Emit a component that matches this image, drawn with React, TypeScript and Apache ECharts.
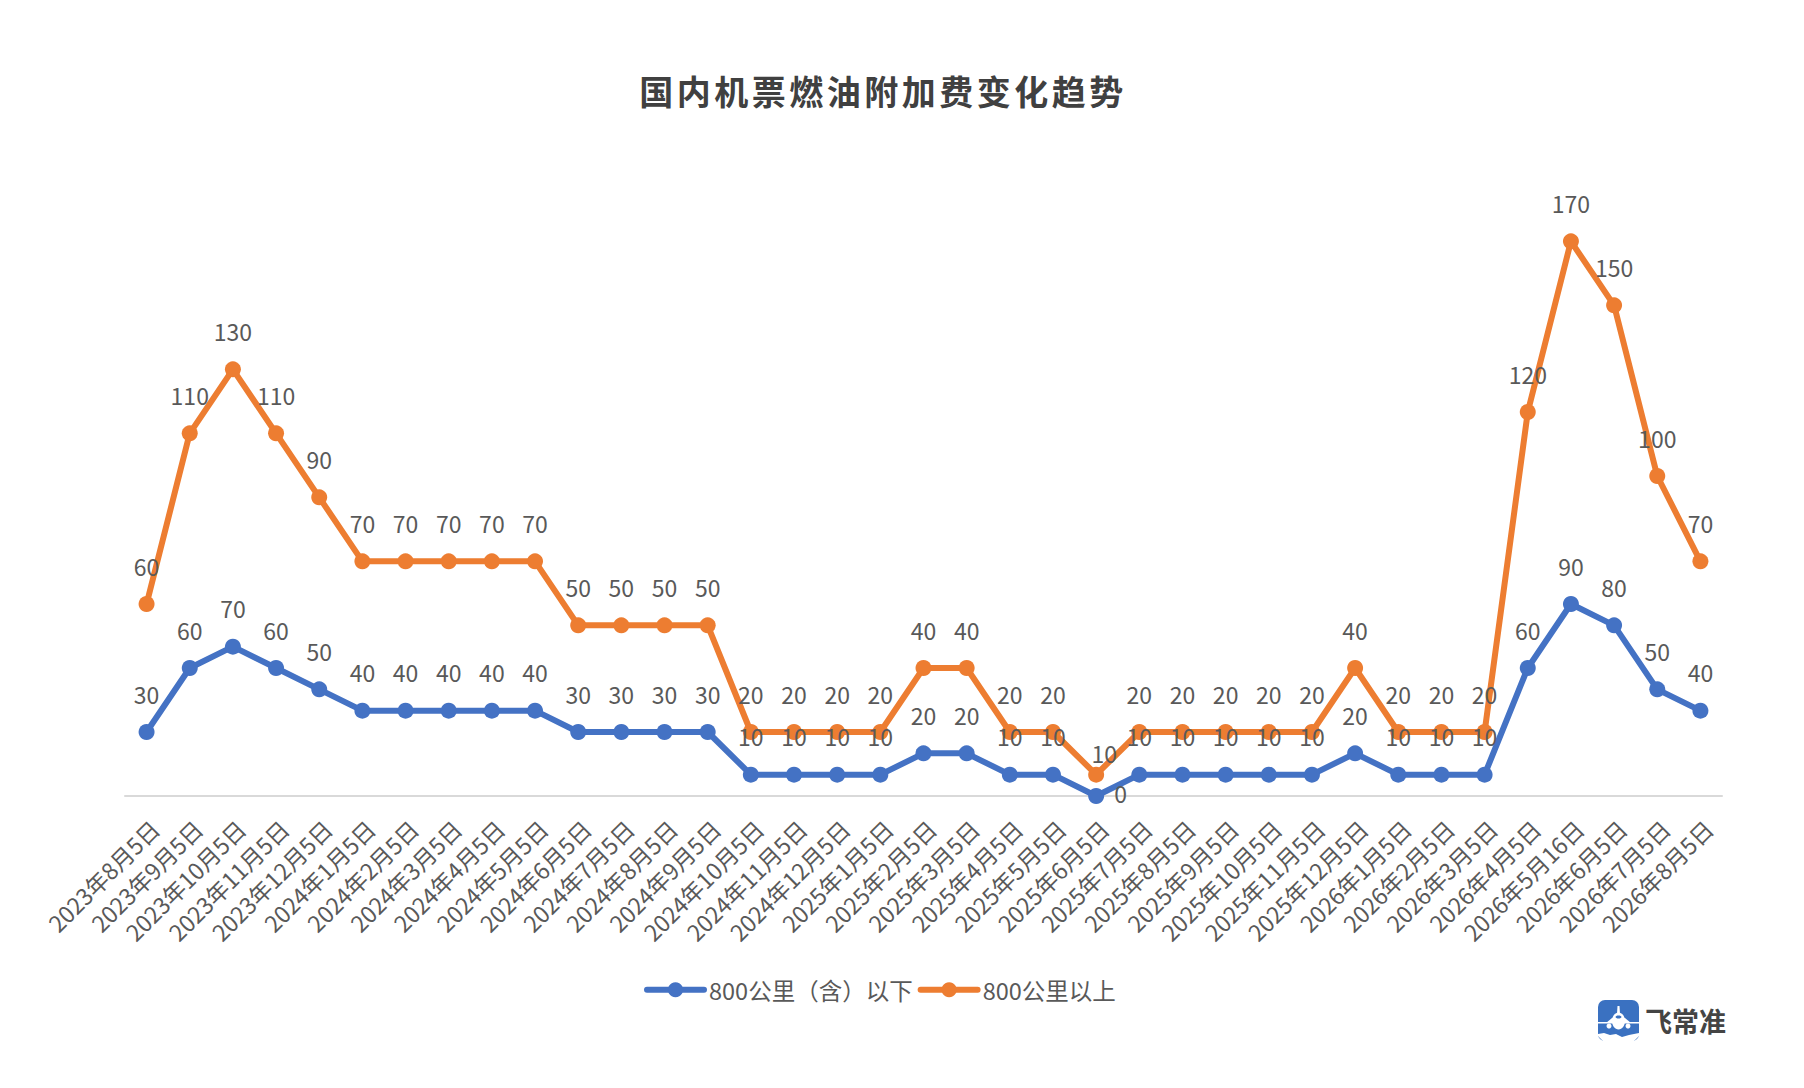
import React, { useEffect, useRef } from "react";
import * as echarts from "echarts";

const titleText = "国内机票燃油附加费变化趋势";
const categories = [
  "2023年8月5日","2023年9月5日","2023年10月5日","2023年11月5日","2023年12月5日",
  "2024年1月5日","2024年2月5日","2024年3月5日","2024年4月5日","2024年5月5日","2024年6月5日","2024年7月5日","2024年8月5日","2024年9月5日","2024年10月5日","2024年11月5日","2024年12月5日",
  "2025年1月5日","2025年2月5日","2025年3月5日","2025年4月5日","2025年5月5日","2025年6月5日","2025年7月5日","2025年8月5日","2025年9月5日","2025年10月5日","2025年11月5日","2025年12月5日",
  "2026年1月5日","2026年2月5日","2026年3月5日","2026年4月5日","2026年5月16日","2026年6月5日","2026年7月5日","2026年8月5日",
];
const shortHaul = [30,60,70,60,50,40,40,40,40,40,30,30,30,30,10,10,10,10,20,20,10,10,0,10,10,10,10,10,20,10,10,10,60,90,80,50,40];
const longHaul = [60,110,130,110,90,70,70,70,70,70,50,50,50,50,20,20,20,20,40,40,20,20,10,20,20,20,20,20,40,20,20,20,120,170,150,100,70];
const seriesNames = ["800公里（含）以下", "800公里以上"];
const logoText = "飞常准";

const FONT = '"Noto Sans CJK SC", "Noto Sans", sans-serif';
const TEXT = "#595959";
const BLUE = "#4472C4";
const ORANGE = "#ED7D31";
const DIP_INDEX = 22;

export default function App() {
  const ref = useRef<HTMLDivElement>(null);
  useEffect(() => {
    const chart = echarts.init(ref.current!, null, { renderer: "svg" });
    const labelBase = { show: true, position: "top", distance: 19, fontSize: 23, color: TEXT, fontFamily: FONT };
    const lineSeries = (name: string, values: number[], color: string, layout: any) => ({
      name,
      type: "line",
      stack: "total",
      data: values.map((v) => (v === 0 ? { value: v, label: { position: "right", distance: 10 } } : v)),
      symbol: "circle",
      symbolSize: 16,
      showAllSymbol: true,
      lineStyle: { color, width: 6, cap: "round" },
      itemStyle: { color },
      label: labelBase,
      labelLayout: layout,
      emphasis: { disabled: true },
    });
    chart.setOption({
      animation: false,
      backgroundColor: "#ffffff",
      title: {
        text: titleText,
        left: 878,
        top: 68,
        textAlign: "center",
        textStyle: { fontSize: 34, fontWeight: "bold", color: "#404040", fontFamily: FONT },
      },
      legend: {
        left: 639,
        top: 973,
        itemWidth: 57,
        itemHeight: 19,
        itemGap: 5,
        lineStyle: { width: 6 },
        textStyle: { fontSize: 23.5, color: TEXT, fontFamily: FONT },
      },
      grid: { left: 125, right: 82, top: 156, bottom: 292, containLabel: false },
      xAxis: {
        type: "category",
        data: categories,
        boundaryGap: true,
        axisLine: { lineStyle: { color: "#D9D9D9", width: 2 } },
        axisTick: { show: false },
        axisLabel: { interval: 0, rotate: 45, fontSize: 23, color: TEXT, margin: 20, verticalAlign: "top", fontFamily: FONT, hideOverlap: false },
      },
      yAxis: { type: "value", min: 0, max: 300, show: false, splitLine: { show: false } },
      series: [
        lineSeries(seriesNames[0], shortHaul, BLUE, (p: any) => (p.dataIndex === DIP_INDEX ? { dy: -3 } : { hideOverlap: false })),
        lineSeries(seriesNames[1], longHaul, ORANGE, (p: any) => (p.dataIndex === DIP_INDEX ? { dx: 8, dy: 17 } : { hideOverlap: false })),
      ],
      graphic: [
        { type: "rect", shape: { x: 1598, y: 1000, width: 41, height: 41, r: 7 }, style: { fill: "#3A71C1" } },
        { type: "rect", shape: { x: 1598, y: 1022, width: 41, height: 1.5 }, style: { fill: "#ffffff" } },
        { type: "polygon", shape: { points: [[1617.5, 1006], [1619.5, 1006], [1620, 1014], [1617, 1014]] }, style: { fill: "#ffffff" } },
        { type: "ellipse", shape: { cx: 1618.5, cy: 1021, rx: 6.5, ry: 8.5 }, style: { fill: "#ffffff" } },
        { type: "polygon", shape: { points: [[1612, 1018], [1606, 1023], [1631, 1023], [1625, 1018]] }, style: { fill: "#ffffff" } },
        { type: "ellipse", shape: { cx: 1618.5, cy: 1017, rx: 3, ry: 1.5 }, style: { fill: "#3A71C1" } },
        { type: "circle", shape: { cx: 1609, cy: 1026, r: 2.5 }, style: { fill: "#ffffff" } },
        { type: "circle", shape: { cx: 1628, cy: 1026, r: 2.5 }, style: { fill: "#ffffff" } },
        { type: "polygon", shape: { points: [[1598, 1034], [1604, 1033], [1610, 1035], [1616, 1034], [1622, 1037], [1629, 1035], [1639, 1033], [1639, 1036], [1634, 1041], [1603, 1041], [1598, 1036]] }, style: { fill: "#ffffff" } },
        { type: "text", x: 1645, y: 1007, style: { text: logoText, fontSize: 27, fontWeight: "bold", fill: "#444444", fontFamily: FONT } },
      ],
    });
    // The reference title is tracked out; ECharts has no letter-spacing option.
    ref.current!.querySelectorAll("text").forEach((t) => {
      if (t.textContent === titleText) t.style.letterSpacing = "3.5px";
    });
    return () => chart.dispose();
  }, []);
  return <div ref={ref} style={{ position: "fixed", left: 0, top: 0, width: 1804, height: 1088, background: "#fff" }} />;
}
